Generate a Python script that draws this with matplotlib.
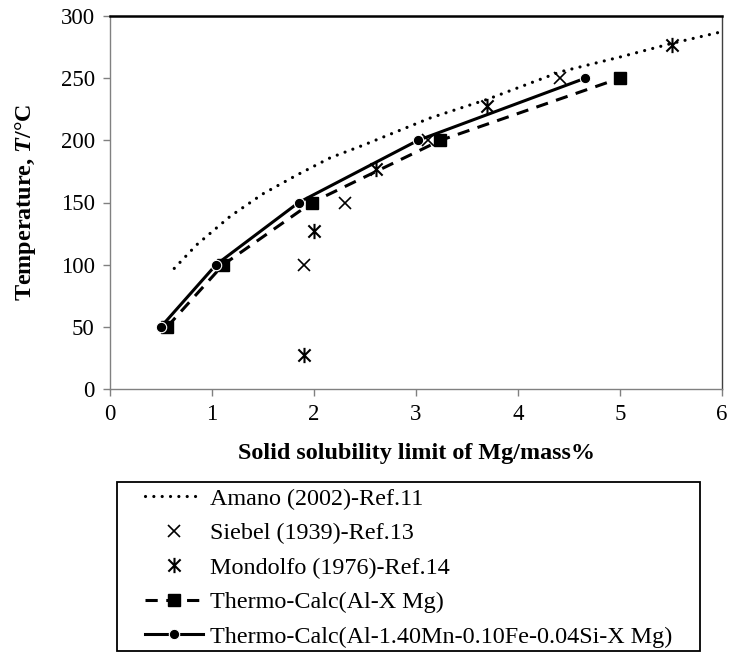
import matplotlib
matplotlib.use("Agg")
import matplotlib.pyplot as plt
from matplotlib.path import Path
from matplotlib.patches import Rectangle

plt.rcParams['font.family'] = ['Liberation Serif', 'DejaVu Serif']
plt.rcParams['mathtext.fontset'] = 'custom'
plt.rcParams['mathtext.rm'] = 'Liberation Serif'
plt.rcParams['mathtext.it'] = 'Liberation Serif:italic'
plt.rcParams['mathtext.bf'] = 'Liberation Serif:bold'
plt.rcParams['mathtext.bfit'] = 'Liberation Serif:italic:bold'

# ---- data ----
amano_x = [0.63, 0.85, 1.18, 1.50, 1.83, 2.16, 2.48, 2.81, 3.14, 3.70, 4.41, 5.00, 5.51, 5.98]
amano_y = [97, 116, 139, 157, 172, 186, 196, 207, 218, 233, 255, 267, 278, 287]

siebel_x = [1.90, 2.30, 3.12, 4.41]
siebel_y = [100, 150, 200, 250]

mondolfo_x = [1.90, 2.00, 2.61, 3.70, 5.51]
mondolfo_y = [27, 127, 177, 228, 277]

tc_almg_x = [0.56, 1.11, 1.98, 3.24, 5.00]
tc_almg_y = [50, 100, 150, 200, 250]

tc_mn_x = [0.50, 1.04, 1.85, 3.02, 4.66]
tc_mn_y = [50, 100, 150, 200, 250]

labels = ["Amano (2002)-Ref.11",
          "Siebel (1939)-Ref.13",
          "Mondolfo (1976)-Ref.14",
          "Thermo-Calc(Al-X Mg)",
          "Thermo-Calc(Al-1.40Mn-0.10Fe-0.04Si-X Mg)"]

x_ticks = [0, 1, 2, 3, 4, 5, 6]
y_ticks = [0, 50, 100, 150, 200, 250, 300]

W, H = 731, 654
fig = plt.figure(figsize=(W / 100, H / 100), dpi=100)
ax = fig.add_axes([110 / W, 1 - 389 / H, (722 - 110) / W, (389 - 16) / H])

star = Path([(-1, -1), (1, 1), (-1, 1), (1, -1), (0, -1.25), (0, 1.25)],
            [Path.MOVETO, Path.LINETO, Path.MOVETO, Path.LINETO, Path.MOVETO, Path.LINETO])

h1, = ax.plot(amano_x, amano_y, color='black', lw=2.3, linestyle=(0, (0.01, 2.6)),
              dash_capstyle='round', solid_capstyle='round', label=labels[0])
h4, = ax.plot(tc_almg_x, tc_almg_y, color='black', lw=2.2, linestyle=(0, (4, 2.8)),
              marker='s', ms=9, mfc='black', mec='black', label=labels[3])
h5, = ax.plot(tc_mn_x, tc_mn_y, color='black', lw=2.2, linestyle='-',
              marker='o', ms=7.5, mfc='black', mec='white', mew=0.8, label=labels[4])
h2, = ax.plot(siebel_x, siebel_y, linestyle='none', marker='x', ms=8.5, mew=1.2,
              color='black', label=labels[1])
h3, = ax.plot(mondolfo_x, mondolfo_y, linestyle='none', marker=star, ms=11, mew=1.5,
              color='black', label=labels[2])

ax.set_xlim(0, 6)
ax.set_ylim(0, 300)
ax.set_xticks(x_ticks)
ax.set_yticks(y_ticks)
ax.tick_params(axis='both', labelsize=16.5, direction='out', length=5, width=1,
               color='#808080', labelcolor='black')
ax.tick_params(axis='x', pad=6)
ax.tick_params(axis='y', pad=6)

for s in ['left', 'bottom']:
    ax.spines[s].set_color('#808080')
    ax.spines[s].set_linewidth(1.0)
ax.spines['right'].set_color('#404040')
ax.spines['right'].set_linewidth(1.0)
ax.spines['top'].set_color('black')
ax.spines['top'].set_linewidth(1.8)

ax.set_xlabel('Solid solubility limit of Mg/mass%', fontsize=17.4, fontweight='bold', va='center')
ax.xaxis.set_label_coords(0.5, -(453 - 389) / 373)
ax.set_ylabel('Temperature, $\\mathbfit{T}$/°C', fontsize=17.4, fontweight='bold', va='center')
ax.yaxis.set_label_coords(-(110 - 26) / 612, 0.5)

leg = fig.legend(handles=[h1, h2, h3, h4, h5], labels=labels, loc='upper left',
                 bbox_to_anchor=(145 / W, 1 - 488 / H), frameon=False, fontsize=17.4,
                 borderpad=0, borderaxespad=0, handlelength=2.4, handletextpad=0.3,
                 labelspacing=0.52, numpoints=1)

frame = Rectangle((117 / W, 1 - 651 / H), (700 - 117) / W, (651 - 482) / H,
                  transform=fig.transFigure, fill=False, edgecolor='black', lw=1.3)
fig.add_artist(frame)

fig.savefig('out.png', dpi=100)
